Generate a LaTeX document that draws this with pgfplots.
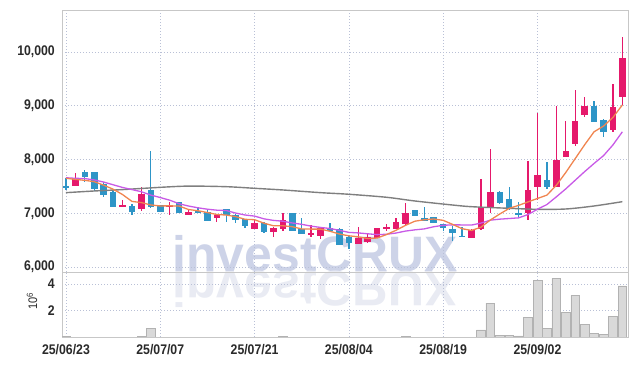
\documentclass[border=0pt]{standalone}
\usepackage{pgfplots}
\usepackage{pgfplotstable}
\usepackage{fontspec}
\setmainfont{Liberation Sans}
\newfontfamily\lblfont[FakeStretch=0.88]{Liberation Sans}
\pgfplotsset{compat=1.18}
\definecolor{cUp}{HTML}{E5196B}
\definecolor{cDn}{HTML}{2E95C7}
\definecolor{cMAa}{HTML}{F08550}
\definecolor{cMAb}{HTML}{C85AE6}
\definecolor{cMAc}{HTML}{7F7F7F}
\definecolor{cGrid}{HTML}{B9C0D6}
\definecolor{cWM}{HTML}{CDD3E8}
\definecolor{cWMr}{HTML}{E9EBF3}
\definecolor{cTxt}{HTML}{2A2A2A}

\pgfplotstableread{
i o h l c
0 7500 7650 7430 7490
2 7760 7800 7590 7670
3 7760 7770 7410 7460
4 7540 7590 7310 7340
5 7400 7410 7120 7120
7 7140 7170 6970 7030
9 7440 8160 7100 7120
10 7150 7160 7020 7030
12 7200 7210 7000 7010
14 7035 7120 7000 7010
15 7020 7060 6860 6860
17 7070 7080 6830 6965
18 6965 6990 6810 6875
19 6890 6900 6720 6760
21 6825 6830 6625 6650
24 7010 7010 6670 6675
25 6700 6905 6610 6615
28 6725 6825 6670 6675
29 6700 6720 6410 6415
30 6565 6580 6340 6450
37 7060 7060 6950 6955
38 6905 7120 6850 6855
39 6925 6925 6810 6810
40 6795 6800 6670 6720
41 6705 6765 6485 6625
42 6585 6740 6550 6555
46 7390 7420 7170 7185
47 7265 7495 7060 7075
48 7010 7215 6925 6975
51 7620 7960 7450 7495
56 8995 9090 8690 8705
57 8735 8760 8410 8520
}\down

\pgfplotstableread{
i o h l c
1 7500 7740 7500 7650
6 7120 7240 7115 7150
8 7070 7490 7040 7350
11 7120 7200 6975 7160
13 6975 7075 6970 7025
16 6910 6980 6830 6975
20 6715 6875 6710 6825
22 6655 6750 6555 6725
23 6715 7010 6670 6875
26 6600 6780 6565 6635
27 6585 6750 6530 6725
31 6435 6750 6430 6545
32 6460 6630 6455 6565
33 6545 6730 6540 6720
34 6700 6795 6670 6740
35 6705 6915 6700 6845
36 6795 7185 6790 7000
43 6545 6700 6540 6690
44 6700 7630 6695 7110
45 7110 8190 7010 7390
49 7000 7980 6875 7430
50 7480 8870 7250 7710
52 7495 9000 7490 7990
53 8050 8715 8040 8165
54 8290 9290 8250 8720
55 8820 9160 8790 8995
58 8540 9405 8510 8970
59 9160 10285 9010 9880
}\up

\pgfplotstableread{
i m
0 7650
1 7630
2 7612
3 7587
4 7522
5 7448
6 7348
7 7220
8 7198
9 7154
10 7136
11 7138
12 7134
13 7069
14 7047
15 7013
16 6976
17 6967
18 6937
19 6887
20 6880
21 6815
22 6767
23 6767
24 6750
25 6708
26 6705
27 6705
28 6665
29 6613
30 6580
31 6562
32 6530
33 6539
34 6604
35 6683
36 6774
37 6852
38 6879
39 6893
40 6868
41 6793
42 6713
43 6680
44 6740
45 6874
46 6986
47 7090
48 7147
49 7211
50 7275
51 7337
52 7520
53 7758
54 8016
55 8273
56 8515
57 8621
58 8782
59 9014
}\maA

\pgfplotstableread{
i m
0 7660
1 7650
2 7645
3 7620
4 7580
5 7530
6 7480
7 7440
8 7400
9 7338
10 7292
11 7243
12 7177
13 7134
14 7101
15 7075
16 7057
17 7051
18 7003
19 6967
20 6947
21 6896
22 6867
23 6852
24 6819
25 6794
26 6760
27 6736
28 6716
29 6682
30 6644
31 6634
32 6618
33 6602
34 6609
35 6632
36 6668
37 6691
38 6709
39 6749
40 6776
41 6784
42 6783
43 6780
44 6817
45 6871
46 6890
47 6902
48 6914
49 6976
50 7075
51 7162
52 7305
53 7453
54 7614
55 7774
56 7926
57 8071
58 8270
59 8515
}\maB

\pgfplotstableread{
i m
0 7383
3 7414
6 7440
10 7482
13 7505
17 7494
20 7464
23 7433
27 7383
30 7353
34 7297
37 7228
41 7153
43 7122
47 7092
50 7073
53 7079
56 7135
59 7215
}\maC

\pgfplotstableread{
i v
0 0.05
8 0.05
9 0.64
23 0.05
36 0.05
44 0.53
45 2.55
46 0.15
47 0.10
48 0.08
49 1.49
50 4.30
51 0.64
52 4.43
53 1.86
54 3.15
55 0.98
56 0.30
57 0.21
58 1.58
59 3.85
}\vol

\pgfplotsset{
  chartbase/.style={
    scale only axis, width=566bp, xmin=-0.42, xmax=59.6,
    axis line style={draw=black!22},
    major tick length=0pt, tick style={draw=none},
    grid=major,
    major grid style={draw=cGrid, dash pattern=on 1bp off 2bp, line width=0.6bp},
    xtick={0,10,20,30,40,50},
    scaled ticks=false,
    tick label style={font=\lblfont\bfseries\fontsize{14}{14}\selectfont, text=cTxt},
    yticklabel style={anchor=east, inner sep=0pt, xshift=-7bp},
    /pgf/number format/assume math mode=true,
    /pgf/number format/1000 sep={,},
  },
  wick/.style={draw=none, mark=none, forget plot,
    error bars/.cd, y dir=both, y explicit, error mark=none,
    error bar style={line width=1.3bp, draw=#1, solid}},
  body/.style={draw=none, mark=none, forget plot,
    error bars/.cd, y dir=both, y explicit, error mark=none,
    error bar style={line width=6.5bp, draw=#1, solid}},
}

\begin{document}
\begin{tikzpicture}
\path[use as bounding box] (-62bp,-29bp) rectangle (573bp,337bp);
% watermark
\node[anchor=base west, inner sep=0pt, text=cWM, font=\fontsize{50}{50}\selectfont\bfseries] at (110.5bp,65bp) {investCRUX};
\node[anchor=base west, inner sep=0pt, text=cWMr, yscale=-1, font=\fontsize{50}{50}\selectfont\bfseries] at (110.5bp,65bp) {investCRUX};

\begin{axis}[chartbase, name=price, at={(0bp,65bp)}, anchor=south west,
  height=262bp, ymin=5907, ymax=10781,
  ytick={6000,7000,8000,9000,10000},
  xticklabels={},
]
\addplot[wick=cDn] table[x=i, y expr={(\thisrow{h}+\thisrow{l})/2}, y error expr={(\thisrow{h}-\thisrow{l})/2}] {\down};
\addplot[wick=cUp] table[x=i, y expr={(\thisrow{h}+\thisrow{l})/2}, y error expr={(\thisrow{h}-\thisrow{l})/2}] {\up};
\addplot[body=cDn] table[x=i, y expr={(\thisrow{o}+\thisrow{c})/2}, y error expr={max(abs(\thisrow{o}-\thisrow{c})/2,12)}] {\down};
\addplot[body=cUp] table[x=i, y expr={(\thisrow{o}+\thisrow{c})/2}, y error expr={max(abs(\thisrow{o}-\thisrow{c})/2,12)}] {\up};
\addplot[cMAc, line width=1.4bp, smooth, mark=none] table[x=i, y=m] {\maC};
\addplot[cMAb, line width=1.3bp, mark=none] table[x=i, y=m] {\maB};
\addplot[cMAa, line width=1.3bp, mark=none] table[x=i, y=m] {\maA};
\end{axis}

\begin{axis}[chartbase, name=vol, at={(0bp,0bp)}, anchor=south west,
  height=65bp, ymin=0, ymax=4.906,
  ytick={2,4},
  xticklabels={25/06/23,25/07/07,25/07/21,25/08/04,25/08/19,25/09/02},
  xticklabel style={anchor=north, inner sep=0pt, yshift=-7bp},
]
\addplot[ybar, bar width=0.92, fill=black!15, draw=black!30, line width=0.5bp] table[x=i, y=v] {\vol};
\end{axis}
\node[rotate=90, inner sep=0pt, text=cTxt, font=\lblfont\fontsize{12.5}{12.5}\selectfont] at (-30bp,35.5bp) {10\textsuperscript{6}};
\end{tikzpicture}
\end{document}
